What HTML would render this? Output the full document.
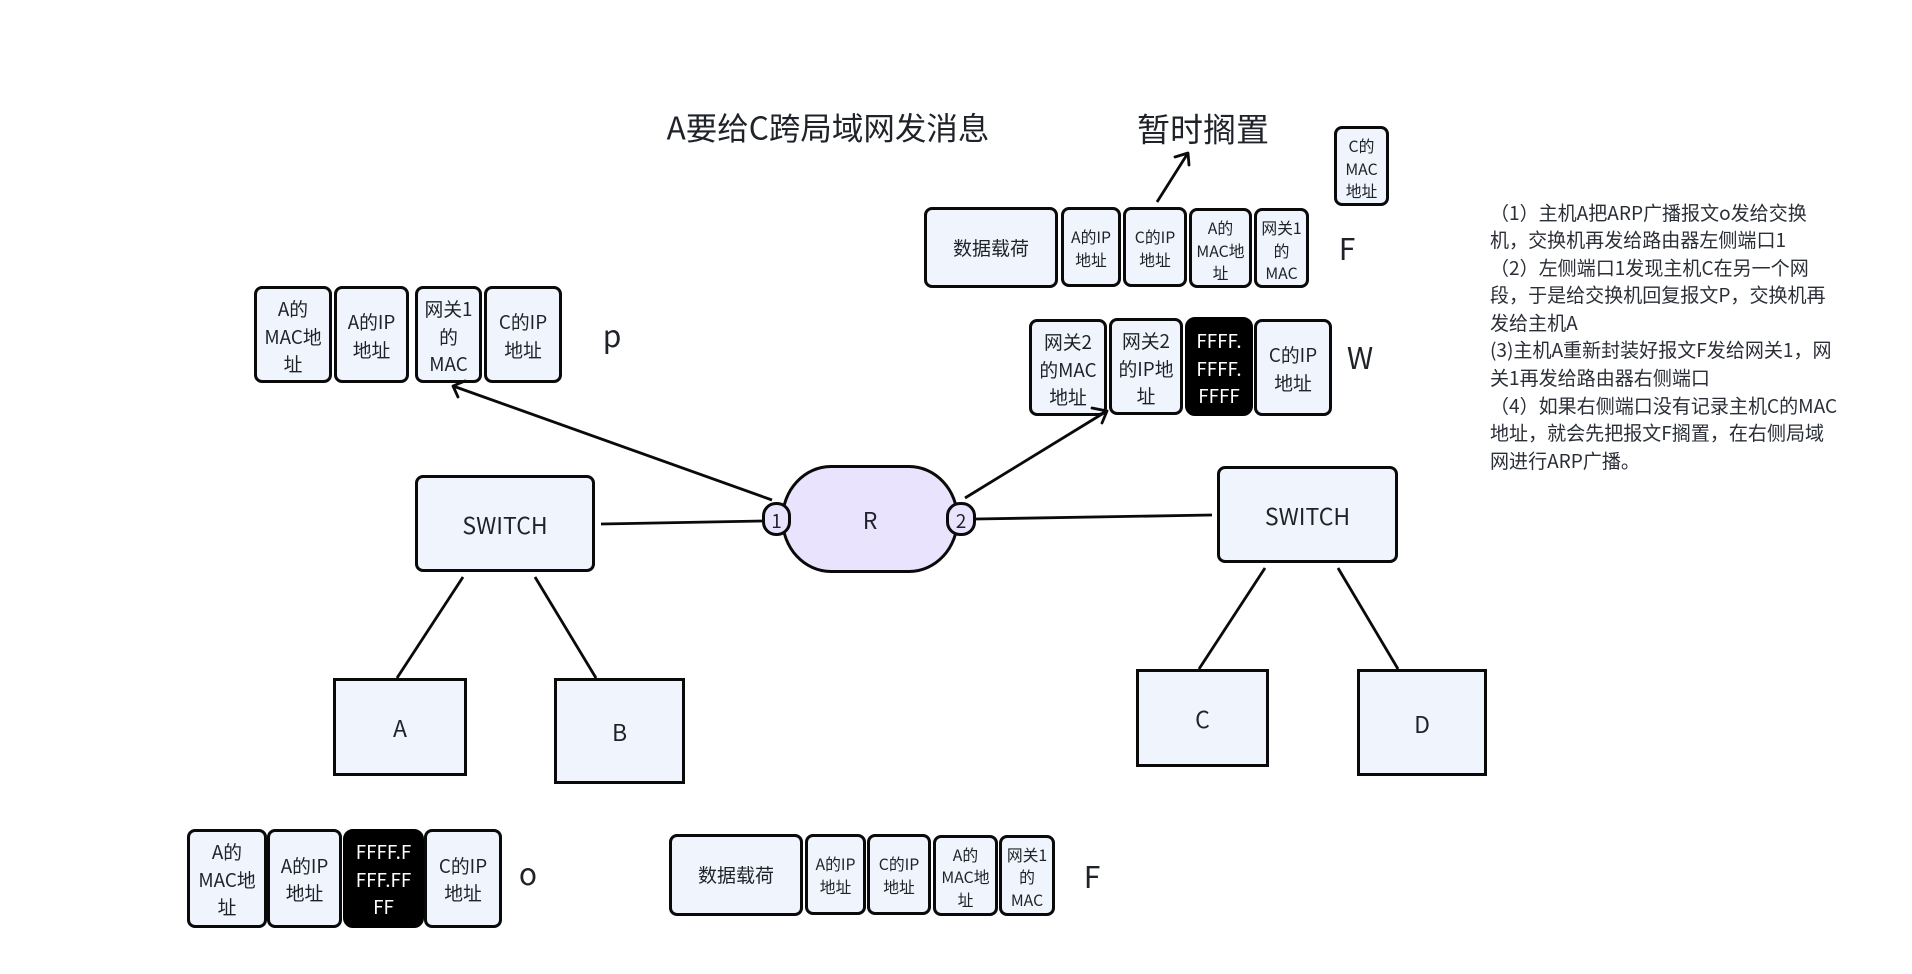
<!DOCTYPE html>
<html lang="zh">
<head>
<meta charset="utf-8">
<title>A要给C跨局域网发消息</title>
<style>
html,body{margin:0;padding:0;background:#fff;}
#c{position:relative;width:1912px;height:974px;overflow:hidden;background:#fff;
 font-family:"Noto Sans CJK SC","Liberation Sans",sans-serif;color:#1f2329;}
.b{position:absolute;box-sizing:border-box;border:3px solid #0a0a0a;background:#eff4fd;border-radius:8px;
 display:flex;align-items:center;justify-content:center;text-align:center;font-size:18.8px;line-height:27.4px;padding-top:3.5px;}
.u{padding-top:2px;}
.s{font-size:15.8px;line-height:22.7px;padding-top:6px;}
.v{padding-top:3px;}
.d{font-size:19px;padding-top:0;}
.k{background:#000;border-color:#000;color:#fff;border-radius:10px;}
.q{border-radius:0;font-size:23px;padding-top:2px;}
.w{font-size:23px;padding-top:2px;}
.t{position:absolute;white-space:nowrap;line-height:1;transform:translate(-50%,-50%);}
svg{position:absolute;left:0;top:0;}
#n{position:absolute;left:1490px;top:198.5px;font-size:19.05px;line-height:27.6px;white-space:pre;color:#2a2e36;}
</style>
</head>
<body>
<div id="c">
<div class="t" style="left:828px;top:127px;font-size:31.5px;">A要给C跨局域网发消息</div>
<div class="t" style="left:1203px;top:128px;font-size:33px;">暂时搁置</div>

<div class="b s" style="left:1334px;top:126px;width:55px;height:80px;">C的<br>MAC<br>地址</div>

<div class="b d" style="left:924px;top:207px;width:134px;height:81px;">数据载荷</div>
<div class="b s v" style="left:1061px;top:207px;width:60px;height:80px;">A的IP<br>地址</div>
<div class="b s v" style="left:1123px;top:207px;width:64px;height:80px;">C的IP<br>地址</div>
<div class="b s" style="left:1189px;top:208px;width:63px;height:80px;">A的<br>MAC地<br>址</div>
<div class="b s" style="left:1254px;top:208px;width:55px;height:80px;">网关1<br>的<br>MAC</div>
<div class="t" style="left:1347px;top:247px;font-size:30px;">F</div>

<div class="b" style="left:1029px;top:319px;width:78px;height:97px;">网关2<br>的MAC<br>地址</div>
<div class="b" style="left:1109px;top:318px;width:74px;height:97px;">网关2<br>的IP地<br>址</div>
<div class="b k" style="left:1185px;top:317px;width:68px;height:99px;">FFFF.<br>FFFF.<br>FFFF</div>
<div class="b u" style="left:1254px;top:319px;width:78px;height:97px;">C的IP<br>地址</div>
<div class="t" style="left:1360px;top:356px;font-size:30px;">W</div>

<div class="b" style="left:254px;top:286px;width:78px;height:97px;">A的<br>MAC地<br>址</div>
<div class="b u" style="left:334px;top:286px;width:75px;height:97px;">A的IP<br>地址</div>
<div class="b" style="left:415px;top:286px;width:67px;height:97px;">网关1<br>的<br>MAC</div>
<div class="b u" style="left:484px;top:286px;width:78px;height:97px;">C的IP<br>地址</div>
<div class="t" style="left:612px;top:334px;font-size:30px;">p</div>

<div class="b w" style="left:415px;top:475px;width:180px;height:97px;">SWITCH</div>
<div class="b w" style="left:1217px;top:466px;width:181px;height:97px;">SWITCH</div>

<div class="b w" style="left:781px;top:465px;width:178px;height:107.5px;background:#e9e3fd;border-radius:50px/54px;">R</div>
<div class="b" style="left:762px;top:502px;width:29px;height:34px;background:#e9e3fd;border-radius:14px;font-size:19px;padding-top:4px;">1</div>
<div class="b" style="left:946px;top:502px;width:30px;height:34px;background:#e9e3fd;border-radius:14px;font-size:19px;padding-top:4px;">2</div>

<div class="b q" style="left:333px;top:678px;width:134px;height:98px;">A</div>
<div class="b q" style="left:554px;top:678px;width:131px;height:106px;">B</div>
<div class="b q" style="left:1136px;top:669px;width:133px;height:98px;">C</div>
<div class="b q" style="left:1357px;top:669px;width:130px;height:107px;">D</div>

<div class="b" style="left:187px;top:829px;width:80px;height:99px;padding-top:1.5px;">A的<br>MAC地<br>址</div>
<div class="b u" style="left:267px;top:829px;width:75px;height:99px;padding-top:1px;">A的IP<br>地址</div>
<div class="b k" style="left:343px;top:829px;width:81px;height:99px;padding-top:1.5px;">FFFF.F<br>FFF.FF<br>FF</div>
<div class="b u" style="left:424px;top:829px;width:78px;height:99px;padding-top:1px;">C的IP<br>地址</div>
<div class="t" style="left:528px;top:872px;font-size:30px;">o</div>

<div class="b d" style="left:669px;top:834px;width:134px;height:82px;">数据载荷</div>
<div class="b s v" style="left:805px;top:834px;width:61px;height:81px;">A的IP<br>地址</div>
<div class="b s v" style="left:867px;top:834px;width:64px;height:81px;">C的IP<br>地址</div>
<div class="b s" style="left:933px;top:835px;width:65px;height:81px;padding-top:4.5px;">A的<br>MAC地<br>址</div>
<div class="b s" style="left:999px;top:835px;width:56px;height:81px;padding-top:4.5px;">网关1<br>的<br>MAC</div>
<div class="t" style="left:1092px;top:875px;font-size:30px;">F</div>

<svg width="1912" height="974" viewBox="0 0 1912 974" fill="none" stroke="#0a0a0a" stroke-width="2.8">
<line x1="601" y1="524" x2="762" y2="521"/>
<line x1="976" y1="519" x2="1212" y2="515"/>
<line x1="463" y1="577" x2="397" y2="678"/>
<line x1="535" y1="577" x2="596" y2="678"/>
<line x1="1265" y1="568" x2="1199" y2="669"/>
<line x1="1338" y1="568" x2="1398" y2="669"/>
<line x1="772" y1="500" x2="453" y2="386"/>
<polyline points="465,381 453,386 458,397" stroke-linecap="round" stroke-linejoin="round"/>
<line x1="965" y1="498" x2="1107" y2="411"/>
<polyline points="1092,408 1107,411 1102,423" stroke-linecap="round" stroke-linejoin="round"/>
<line x1="1157" y1="202" x2="1188" y2="153"/>
<polyline points="1175,157 1188,153 1189,165" stroke-linecap="round" stroke-linejoin="round"/>
</svg>

<div id="n">（1）主机A把ARP广播报文o发给交换
机，交换机再发给路由器左侧端口1
（2）左侧端口1发现主机C在另一个网
段，于是给交换机回复报文P，交换机再
发给主机A
(3)主机A重新封装好报文F发给网关1，网
关1再发给路由器右侧端口
（4）如果右侧端口没有记录主机C的MAC
地址，就会先把报文F搁置，在右侧局域
网进行ARP广播。</div>
</div>
</body>
</html>
